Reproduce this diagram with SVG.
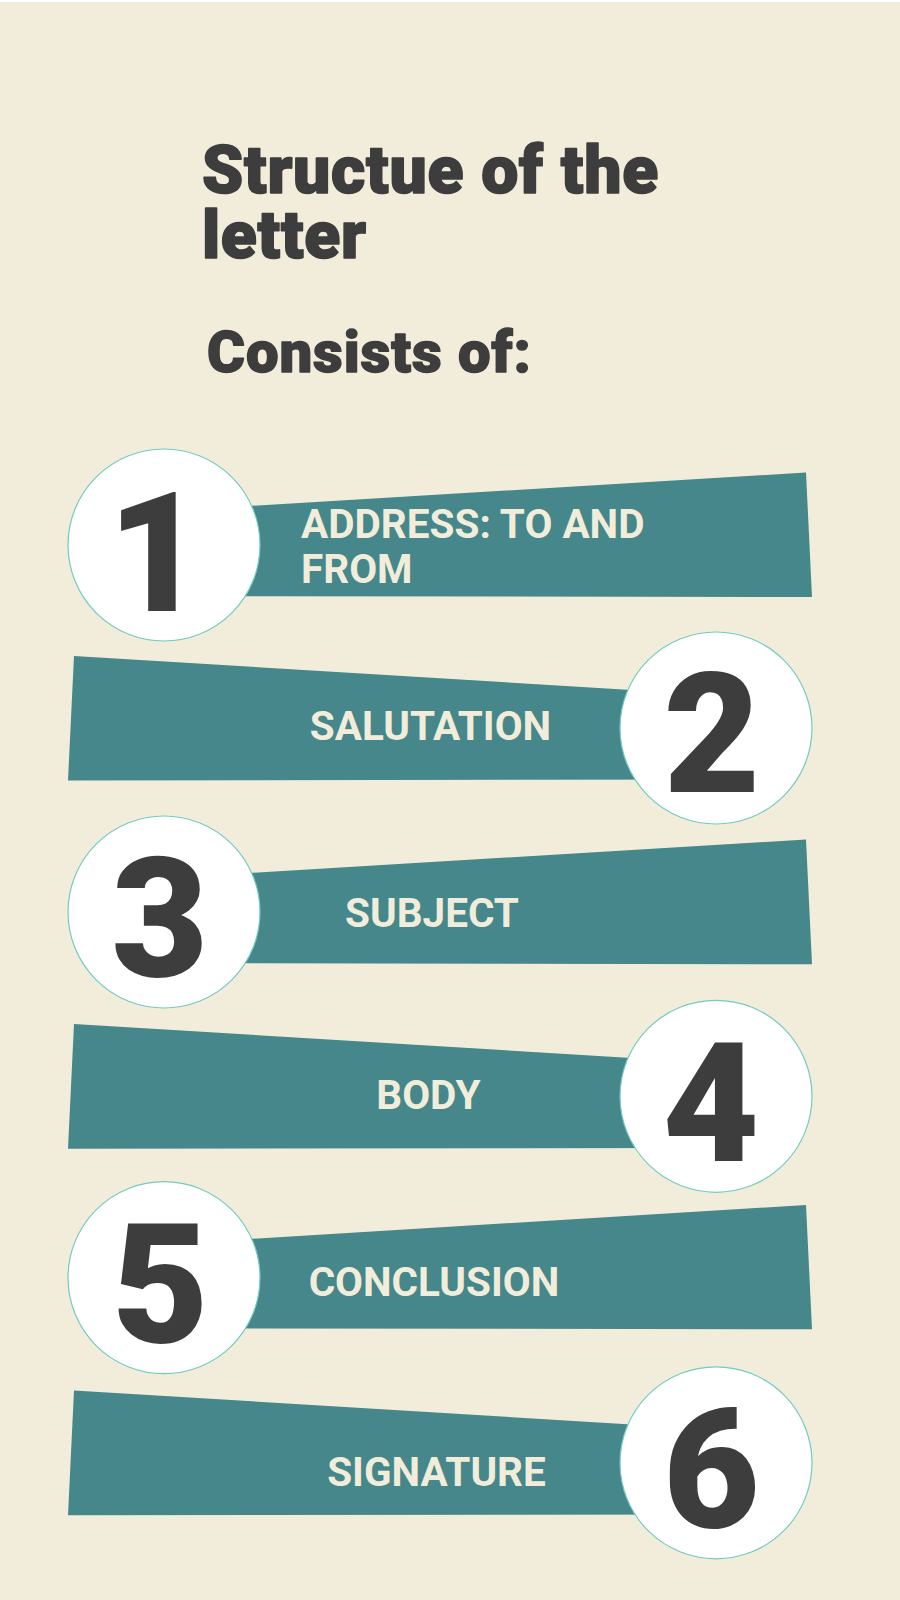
<svg xmlns="http://www.w3.org/2000/svg" width="900" height="1600" viewBox="0 0 900 1600">
<style>
.bg{fill:#F2EDDA}
.banner{fill:#45878A}
.circ{fill:#FFFFFF;stroke:#72CBC0;stroke-width:1.2}
.num{font-family:Roboto,"Liberation Sans",sans-serif;font-weight:900;font-size:167px;fill:#3D3D3D;text-anchor:middle}
.lbl{font-family:Roboto,"Liberation Sans",sans-serif;font-weight:700;font-size:40.5px;fill:#F2EDDA}
.title{font-family:Roboto,"Liberation Sans",sans-serif;font-weight:900;fill:#3D3D3D;stroke:#3D3D3D;stroke-linejoin:round}
</style>
<rect x="0" y="0" width="900" height="1600" fill="#FFFFFF"/>
<rect class="bg" x="0" y="2" width="900" height="1598"/>
<g id="title">
<text class="title" font-size="66" stroke-width="1.6" letter-spacing="0.7" x="202" y="193">Structue of the</text>
<text class="title" font-size="66" stroke-width="1.6" letter-spacing="0.7" x="202" y="258">letter</text>
</g>
<g id="subtitle">
<text class="title" font-size="58" stroke-width="1.4" letter-spacing="0.9" x="207" y="372">Consists of:</text>
</g>
<g id="connectors"></g>
<g id="item1">
<polygon class="banner" points="150,512 806,472.5 812,597 150,596"/>
<circle class="circ" cx="164" cy="545" r="96"/>
<text class="num" x="156" y="611">1</text>
<text class="lbl" x="301" y="538">ADDRESS: TO AND</text>
<text class="lbl" x="301" y="583">FROM</text>
</g>
<g id="item2">
<polygon class="banner" points="74,656 730,696 730,779.5 68,780.5"/>
<circle class="circ" cx="716" cy="728" r="96"/>
<text class="num" x="712" y="792">2</text>
<text class="lbl" x="430.5" y="740" text-anchor="middle">SALUTATION</text>
</g>
<g id="item3">
<polygon class="banner" points="150,879 806,839.5 812,964.3 150,963"/>
<circle class="circ" cx="164" cy="912" r="96"/>
<text class="num" x="160" y="976">3</text>
<text class="lbl" x="432" y="927" text-anchor="middle">SUBJECT</text>
</g>
<g id="item4">
<polygon class="banner" points="74,1024 730,1064 730,1148 68,1148.7"/>
<circle class="circ" cx="716" cy="1096.3" r="96"/>
<text class="num" x="711" y="1161">4</text>
<text class="lbl" x="428.5" y="1109" text-anchor="middle">BODY</text>
</g>
<g id="item5">
<polygon class="banner" points="150,1245 806,1205 812,1329.3 150,1328.3"/>
<circle class="circ" cx="164" cy="1277.7" r="96"/>
<text class="num" x="160.5" y="1342">5</text>
<text class="lbl" x="434" y="1296" text-anchor="middle">CONCLUSION</text>
</g>
<g id="item6">
<polygon class="banner" points="74,1390.5 730,1430.5 730,1514.5 68,1515.3"/>
<circle class="circ" cx="716" cy="1462.8" r="96"/>
<text class="num" x="711.5" y="1527">6</text>
<text class="lbl" x="436.5" y="1486" text-anchor="middle">SIGNATURE</text>
</g>
</svg>
